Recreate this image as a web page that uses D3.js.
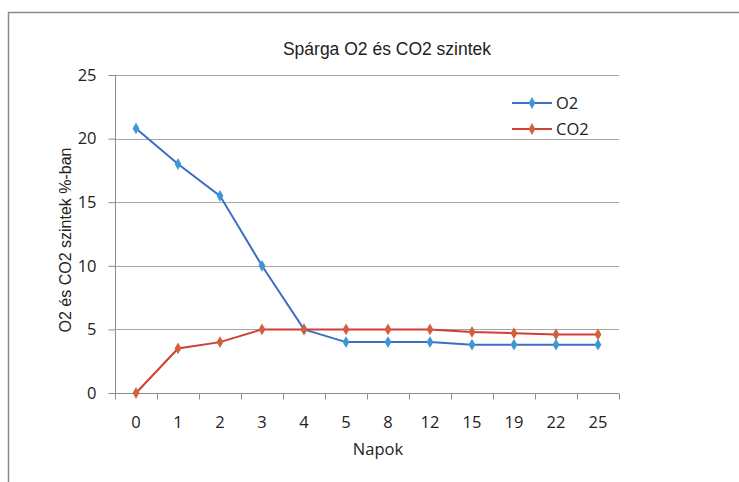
<!DOCTYPE html>
<html><head><meta charset="utf-8">
<script src="https://cdn.jsdelivr.net/npm/d3@7"></script>
<style>body{margin:0;background:#fff}svg{display:block}</style>
</head><body>
<svg id="c" width="739" height="482"></svg>
<script>
const categories = ["0","1","2","3","4","5","8","12","15","19","22","25"];
const o2 = [20.8,18,15.5,10,5,4,4,4,3.8,3.8,3.8,3.8];
const co2 = [0,3.5,4,5,5,5,5,5,4.8,4.7,4.6,4.6];
const yTicks = [0,5,10,15,20,25];
const seriesNames = ["O2","CO2"];

(function(){
const svg = d3.select("#c");
const pL=115,pR=619,pT=75,pB=393;
const tickFont = "Open Sans, DejaVu Sans, sans-serif";
const fs = 16.5;
const x = d3.scaleBand().domain(categories).range([pL,pR]);
const y = d3.scaleLinear().domain([0,25]).range([pB,pT]);

// outer border
svg.append("path").attr("d","M8.5,482 V12.5 H739").attr("fill","none").attr("stroke","#8a8a8a").attr("stroke-width",1.5);

// gridlines
svg.append("g").selectAll("line").data(yTicks.filter(d=>d>0)).join("line")
 .attr("x1",pL).attr("x2",pR).attr("y1",d=>Math.round(y(d))+0.5).attr("y2",d=>Math.round(y(d))+0.5)
 .attr("stroke","#a6a6a6").attr("stroke-width",1);

// y axis
const ya = svg.append("g").attr("transform",`translate(${pL+0.5},0)`)
 .call(d3.axisLeft(y).tickValues(yTicks).tickSize(7).tickPadding(12));
ya.select(".domain").attr("stroke","#8a8a8a").attr("d",`M0,${pB}V${pT}`);
ya.selectAll(".tick line").attr("stroke","#8a8a8a");
ya.selectAll(".tick text").attr("font-family",tickFont).attr("font-size",fs).attr("fill","#222");

// x axis
const xa = svg.append("g").attr("transform",`translate(0,${pB+0.5})`)
 .call(d3.axisBottom(x).tickSize(0).tickPadding(23));
xa.select(".domain").attr("stroke","#8a8a8a").attr("d",`M${pL},0H${pR}`);
xa.selectAll(".tick text").attr("font-family",tickFont).attr("font-size",fs).attr("fill","#222");
const bounds = categories.map(c=>x(c)).concat([pR]);
xa.selectAll(".bt").data(bounds).join("line").attr("class","bt")
 .attr("x1",d=>Math.round(d)+0.5).attr("x2",d=>Math.round(d)+0.5).attr("y1",0).attr("y2",6).attr("stroke","#8a8a8a");

const cx = d => x(d)+x.bandwidth()/2;
const data = [
 {name:seriesNames[0],vals:o2,line:"#3c6fc4",mark:"#3d97d4"},
 {name:seriesNames[1],vals:co2,line:"#cf3d33",mark:"#d35f3b"}
];
const line = d3.line().x((d,i)=>cx(categories[i])).y(d=>y(d));
const diamond = d3.symbol().type(d3.symbolDiamond).size(40);
data.forEach(s=>{
 svg.append("path").attr("d",line(s.vals)).attr("fill","none").attr("stroke",s.line).attr("stroke-width",2);
 svg.append("g").selectAll("path").data(s.vals).join("path")
  .attr("transform",(d,i)=>`translate(${cx(categories[i])},${y(d)})`)
  .attr("d",diamond).attr("fill",s.mark);
});

// legend
const lg = svg.append("g");
data.forEach((s,i)=>{
 const ly = 103 + i*26;
 lg.append("line").attr("x1",512).attr("x2",552).attr("y1",ly).attr("y2",ly).attr("stroke",s.line).attr("stroke-width",2);
 lg.append("path").attr("transform",`translate(532,${ly})`).attr("d",diamond).attr("fill",s.mark);
 lg.append("text").attr("x",556).attr("y",ly+6).text(s.name)
  .attr("font-family",tickFont).attr("font-size",fs).attr("fill","#222");
});

// titles
svg.append("text").attr("x",387).attr("y",55).attr("text-anchor","middle")
 .attr("font-family","Liberation Sans, Arial, sans-serif").attr("font-size",17.5).attr("fill","#222")
 .text("Spárga O2 és CO2 szintek");
svg.append("text").attr("x",378).attr("y",455).attr("text-anchor","middle")
 .attr("font-family",tickFont).attr("font-size",fs).attr("fill","#222")
 .text("Napok");
svg.append("text").attr("transform","translate(71,240) rotate(-90)").attr("text-anchor","middle")
 .attr("font-family","Liberation Sans, Arial, sans-serif").attr("font-size",16).attr("fill","#222")
 .text("O2 és CO2 szintek %-ban");
})();
</script>
</body></html>
